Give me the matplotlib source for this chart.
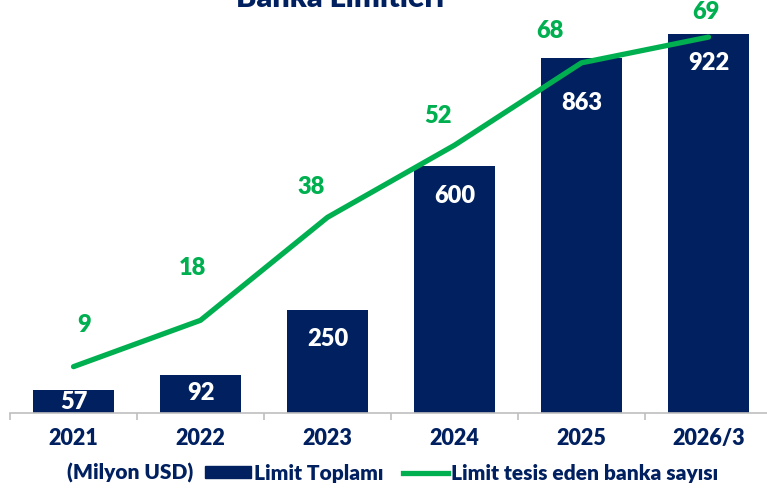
import matplotlib.pyplot as plt
import numpy as np

plt.rcParams['font.family'] = ['Lato', 'DejaVu Sans']
plt.rcParams['font.weight'] = 'bold'

years = ['2021', '2022', '2023', '2024', '2025', '2026/3']
limit_total = [57, 92, 250, 600, 863, 922]
bank_count = [9, 18, 38, 52, 68, 73]          # line position as drawn
bank_labels = ['9', '18', '38', '52', '68', '69']  # printed labels

navy = '#002060'
green = '#00B050'

fig = plt.figure(figsize=(7.67, 4.94), dpi=100)
ax = fig.add_axes([10 / 767, 81 / 494, 762 / 767, 413 / 494])
ax2 = ax.twinx()

x = np.arange(len(years))
bars = ax.bar(x, limit_total, width=0.63, color=navy, zorder=2)
ax.set_xlim(-0.5, len(years) - 0.5)
ax.set_ylim(0, 1005)

# white value labels inside the bars (offset below bar top, in points)
bar_offsets = [-9, -13, -21, -21, -32, -21]
for xi, v, off in zip(x, limit_total, bar_offsets):
    ax.annotate(str(v), (xi, v), xytext=(0, off), textcoords='offset points',
                ha='center', va='center', color='white', fontsize=17, fontweight='heavy')

ax2.plot(x, bank_count, color=green, lw=3.8, solid_capstyle='round', zorder=3)
ax2.set_ylim(0, 80.2)
line_offsets = [(8, 30), (-6, 38), (-12, 22), (-12, 21), (-23, 23), (-2, 18)]
for xi, v, lab, (dx, dy) in zip(x, bank_count, bank_labels, line_offsets):
    ax2.annotate(lab, (xi, v), xytext=(dx, dy), textcoords='offset points',
                 ha='center', va='center', color=green, fontsize=17, fontweight='heavy')

for a in (ax, ax2):
    for s in ('top', 'right', 'left'):
        a.spines[s].set_visible(False)
    a.set_yticks([])
ax2.spines['bottom'].set_visible(False)
ax.spines['bottom'].set_color('#BFBFBF')
ax.spines['bottom'].set_linewidth(1.2)

ax.set_xticks(x)
ax.set_xticklabels(years, fontsize=15.5, fontweight='heavy', color=navy)
ax.tick_params(axis='x', which='major', length=0, pad=11)
ax.set_xticks(np.arange(-0.5, len(years)), minor=True)
ax.tick_params(axis='x', which='minor', length=5, color='#BFBFBF', width=1.2)

# title sits mostly above the visible area, as in the source image
fig.text(340 / 767, 1 - 7 / 494, 'Banka Limitleri', ha='center', va='baseline',
         fontsize=22, fontweight='heavy', color=navy)

fig.text(130 / 767, 1 - 473 / 494, '(Milyon USD)', ha='center', va='center',
         fontsize=15, fontweight='heavy', color=navy)
handles = [plt.Rectangle((0, 0), 1, 1, color=navy),
           plt.Line2D([], [], color=green, lw=3.8)]
leg = fig.legend(handles, ['Limit Toplamı', 'Limit tesis eden banka sayısı'],
                 loc='center', bbox_to_anchor=(462 / 767, 1 - 473 / 494), ncol=2,
                 frameon=False, fontsize=15, handlelength=2.2, handleheight=0.5,
                 handletextpad=0.15, columnspacing=0.9)
for t in leg.get_texts():
    t.set_color(navy)
    t.set_fontweight('heavy')

fig.savefig('out.png', dpi=100)
